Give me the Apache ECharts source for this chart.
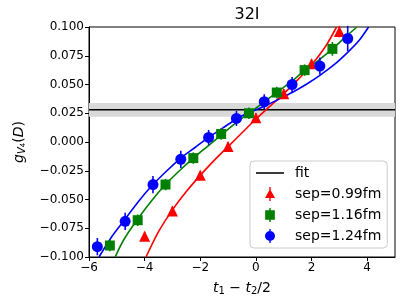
<!DOCTYPE html>
<html><head><meta charset="utf-8">
<script src="https://cdn.jsdelivr.net/npm/echarts@6/dist/echarts.min.js"></script>
<style>html,body{margin:0;padding:0;background:#fff}#c{width:407px;height:305px}</style>
</head><body><div id="c"></div>
<script>
// ---- data ----
const titleText = '32I';
const xTicks = [-6, -4, -2, 0, 2, 4];
const yTicks = [-0.1, -0.075, -0.05, -0.025, 0, 0.025, 0.05, 0.075, 0.1];

const fitValue = 0.028;
const fitBand = [0.022, 0.034];

const redX = [-4, -3, -2, -1, 0, 1, 2, 3];
const redY = [-0.082, -0.060, -0.029, -0.004, 0.021, 0.042, 0.068, 0.096];
const redErr = [0.004, 0.004, 0.004, 0.004, 0.004, 0.004, 0.004, 0.005];

const greenX = [-5.25, -4.25, -3.25, -2.25, -1.25, -0.25, 0.75, 1.75, 2.75];
const greenY = [-0.090, -0.068, -0.037, -0.014, 0.007, 0.025, 0.043, 0.0625, 0.081];
const greenErr = [0.005, 0.005, 0.005, 0.005, 0.005, 0.005, 0.005, 0.005, 0.006];

const blueX = [-5.7, -4.7, -3.7, -2.7, -1.7, -0.7, 0.3, 1.3, 2.3, 3.3];
const blueY = [-0.091, -0.069, -0.037, -0.015, 0.004, 0.0205, 0.035, 0.050, 0.066, 0.090];
const blueErr = [0.0075, 0.0075, 0.0075, 0.0075, 0.0065, 0.0065, 0.0065, 0.0065, 0.0075, 0.011];

const redCurveX = [-3.95, -3.5, -3, -2.5, -2, -1.5, -1, -0.5, 0, 0.5, 1, 1.5, 2, 2.5, 2.9];
const redCurveY = [-0.100, -0.078, -0.059, -0.043, -0.029, -0.016, -0.004, 0.008, 0.020, 0.031, 0.042, 0.054, 0.067, 0.083, 0.100];

const greenCurveX = [-5.06, -4.75, -4.25, -3.75, -3.25, -2.75, -2.25, -1.75, -1.25, -0.75, -0.25, 0.25, 0.75, 1.25, 1.75, 2.25, 2.75, 3.25, 3.63];
const greenCurveY = [-0.100, -0.085, -0.067, -0.051, -0.037, -0.025, -0.014, -0.004, 0.006, 0.016, 0.025, 0.034, 0.043, 0.052, 0.062, 0.071, 0.081, 0.092, 0.100];

const blueCurveX = [-5.64, -5.2, -4.7, -4.2, -3.7, -3.2, -2.7, -2.2, -1.7, -1.2, -0.7, -0.2, 0.3, 0.8, 1.3, 1.8, 2.3, 2.8, 3.3, 3.7, 4.05];
const blueCurveY = [-0.100, -0.083, -0.067, -0.051, -0.037, -0.025, -0.014, -0.005, 0.004, 0.012, 0.020, 0.026, 0.031, 0.037, 0.043, 0.050, 0.058, 0.067, 0.078, 0.088, 0.100];

const legendNames = ['fit', 'sep=0.99fm', 'sep=1.16fm', 'sep=1.24fm'];
const colors = { red: '#ff0000', green: '#008000', blue: '#0000ff' };

// ---- chart ----
const FONT = 'DejaVu Sans';
const pairs = (xs, ys) => xs.map((x, i) => [x, ys[i]]);
const fmtNum = (v, d) => (v < 0 ? '\u2212' : '') + Math.abs(v).toFixed(d);

function errSeries(name, xs, ys, es, color) {
  return {
    type: 'custom', name: name, z: 4,
    data: xs.map((x, i) => [x, ys[i] - es[i], ys[i] + es[i]]),
    encode: { x: 0, y: [1, 2] },
    renderItem: function (params, api) {
      const p1 = api.coord([api.value(0), api.value(1)]);
      const p2 = api.coord([api.value(0), api.value(2)]);
      return { type: 'line', shape: { x1: p1[0], y1: p1[1], x2: p2[0], y2: p2[1] },
               style: { stroke: color, lineWidth: 1.6 } };
    }
  };
}
function curve(name, xs, ys, color) {
  return { type: 'line', name: name, data: pairs(xs, ys), showSymbol: false, symbol: 'none',
           smooth: 0.3, lineStyle: { color: color, width: 1.6 }, z: 3, silent: true };
}
function pts(name, xs, ys, color, symbol, size) {
  return { type: 'scatter', name: name, data: pairs(xs, ys), symbol: symbol, symbolSize: size,
           itemStyle: { color: color, opacity: 1 }, z: 5 };
}

const chart = echarts.init(document.getElementById('c'), null, { renderer: 'canvas' });
chart.setOption({
  animation: false,
  backgroundColor: '#ffffff',
  title: { text: titleText, left: 242, top: 2, textAlign: 'center',
           textStyle: { fontFamily: FONT, fontSize: 16, fontWeight: 'normal', color: '#000' } },
  grid: { left: 89, right: 12, top: 27, bottom: 48, show: true, borderColor: '#000', borderWidth: 1, backgroundColor: 'transparent' },
  xAxis: {
    type: 'value', min: -6, max: 5, interval: 2,
    axisLine: { show: true, onZero: false, lineStyle: { color: '#000', width: 1 } },
    axisTick: { show: true, inside: false, length: 4, lineStyle: { color: '#000' } },
    splitLine: { show: false },
    axisLabel: { fontFamily: FONT, fontSize: 12, color: '#000', margin: 5, showMaxLabel: false,
                 formatter: v => xTicks.includes(v) ? fmtNum(v, 0) : '' },
    name: '{i|t}{s|1}{m| \u2212 }{i|t}{s|2}{m|/2}', nameLocation: 'middle', nameGap: 23,
    nameTextStyle: { fontFamily: FONT, fontSize: 14, color: '#000',
      rich: { i: { fontFamily: FONT, fontSize: 14, fontStyle: 'italic' },
              s: { fontFamily: FONT, fontSize: 10, verticalAlign: 'bottom', padding: [6, 0, 0, 0] },
              m: { fontFamily: FONT, fontSize: 14 } } }
  },
  yAxis: {
    type: 'value', min: -0.1, max: 0.1, interval: 0.025,
    axisLine: { show: true, onZero: false, lineStyle: { color: '#000', width: 1 } },
    axisTick: { show: true, inside: false, length: 4, lineStyle: { color: '#000' } },
    splitLine: { show: false },
    axisLabel: { fontFamily: FONT, fontSize: 12, color: '#000', margin: 5,
                 formatter: v => fmtNum(v, 3) },
    name: '{i|g}{s|V}{ss|4}{m|(}{i|D}{m|)}', nameLocation: 'middle', nameGap: 62, nameRotate: 90,
    nameTextStyle: { fontFamily: FONT, fontSize: 14, color: '#000',
      rich: { i: { fontFamily: FONT, fontSize: 14, fontStyle: 'italic' },
              s: { fontFamily: FONT, fontSize: 10, fontStyle: 'italic', verticalAlign: 'bottom', padding: [6, 0, 0, 0] },
              ss: { fontFamily: FONT, fontSize: 7, verticalAlign: 'bottom', padding: [8, 0, 0, 0] },
              m: { fontFamily: FONT, fontSize: 14 } } }
  },
  legend: {
    orient: 'vertical', left: 250, top: 161, padding: [5, 6, 5, 6], itemGap: 7,
    itemWidth: 28, itemHeight: 14,
    borderColor: '#cccccc', borderWidth: 1, borderRadius: 4, backgroundColor: 'rgba(255,255,255,0.85)',
    textStyle: { fontFamily: FONT, fontSize: 14, color: '#000', padding: [0, 0, 0, 6] },
    selectedMode: false,
    data: [
      { name: legendNames[0], icon: 'path://M0,0H40V2.2H0Z' },
      { name: legendNames[1], icon: 'path://M5,1L10,10H0Z M4.3,-1H5.7V13H4.3Z' },
      { name: legendNames[2], icon: 'path://M0.5,1.5H9.5V10.5H0.5Z M4.3,-0.5H5.7V12.5H4.3Z' },
      { name: legendNames[3], icon: 'path://M5,1A5,5 0 1,1 4.99,1Z M4.3,-1H5.7V13H4.3Z' }
    ]
  },
  series: [
    { type: 'line', name: legendNames[0], data: [[-6, fitValue], [5, fitValue]], showSymbol: false, symbol: 'none',
      lineStyle: { color: '#000', width: 1.6 }, itemStyle: { color: '#000' }, z: 2, silent: true,
      markArea: { silent: true, itemStyle: { color: '#d9d9d9' },
                  data: [[{ yAxis: fitBand[0] }, { yAxis: fitBand[1] }]] } },
    curve('c1', redCurveX, redCurveY, colors.red),
    curve('c2', greenCurveX, greenCurveY, colors.green),
    curve('c3', blueCurveX, blueCurveY, colors.blue),
    errSeries('e1', redX, redY, redErr, colors.red),
    errSeries('e2', greenX, greenY, greenErr, colors.green),
    errSeries('e3', blueX, blueY, blueErr, colors.blue),
    pts(legendNames[1], redX, redY, colors.red, 'triangle', 11),
    pts(legendNames[2], greenX, greenY, colors.green, 'rect', 10),
    pts(legendNames[3], blueX, blueY, colors.blue, 'circle', 11)
  ]
});
</script></body></html>
